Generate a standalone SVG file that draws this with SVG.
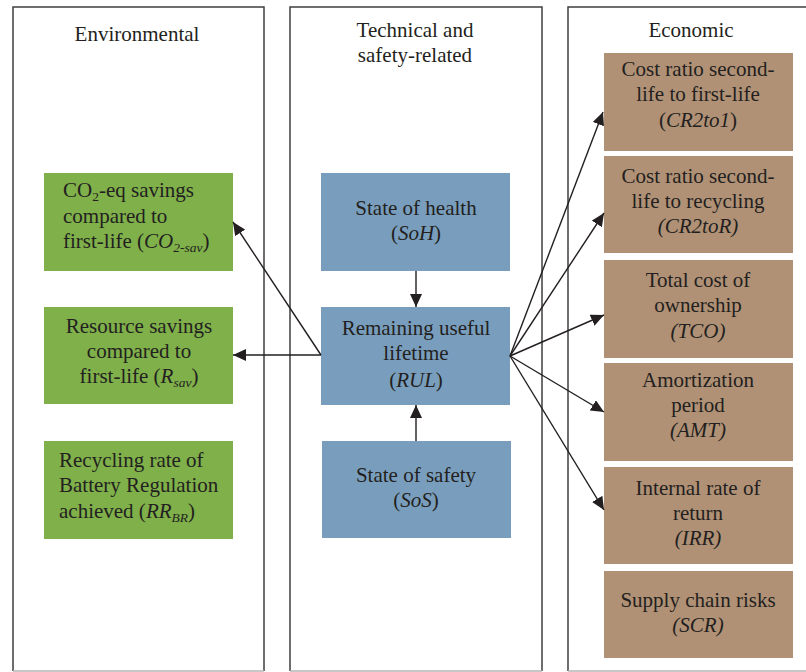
<svg xmlns="http://www.w3.org/2000/svg" width="806" height="672" viewBox="0 0 806 672">
<defs>
<style>
.col{fill:none;stroke:#3f3f3f;stroke-width:1.5}
.colb{fill:none;stroke:#b5b5b5;stroke-width:1.5}
.green{fill:#7fb04a}
.blue{fill:#799ebd}
.brown{fill:#b09175}
text{font-family:"Liberation Serif","Times New Roman",serif;font-size:21px;fill:#231f20}
.c{text-anchor:middle}
.i{font-style:italic}
.conn{stroke:#231f20;stroke-width:1.4;fill:none}
</style>
<marker id="ah" markerUnits="userSpaceOnUse" markerWidth="14" markerHeight="12" refX="13" refY="6" orient="auto">
<path d="M0,0 L13,6 L0,12 Z" fill="#231f20"/>
</marker>
</defs>

<g id="columns">
<path class="col" d="M13,671 V7 H264 V671"/>
<path class="col" d="M290,671 V7 H542 V671"/>
<path class="col" d="M568,671 V7 H806"/>
<path class="colb" d="M13,671 H264 M290,671 H542 M568,671 H806"/>
<text class="c" x="137" y="41">Environmental</text>
<text class="c" x="415" y="37">Technical and</text>
<text class="c" x="415" y="62">safety-related</text>
<text class="c" x="691" y="37">Economic</text>
</g>

<g id="co2sav">
<rect class="green" x="44" y="173" width="189" height="98"/>
<text x="63" y="197">CO<tspan font-size="13.5" dy="4">2</tspan><tspan dy="-4">-eq savings</tspan></text>
<text x="63" y="223">compared to</text>
<text x="63" y="248">first-life (<tspan class="i">CO</tspan><tspan class="i" font-size="13.5" dy="4">2-sav</tspan><tspan dy="-4">)</tspan></text>
</g>

<g id="rsav">
<rect class="green" x="44" y="307" width="189" height="97"/>
<text class="c" x="139" y="333">Resource savings</text>
<text class="c" x="139" y="358">compared to</text>
<text class="c" x="139" y="383">first-life (<tspan class="i">R</tspan><tspan class="i" font-size="13.5" dy="4">sav</tspan><tspan dy="-4">)</tspan></text>
</g>

<g id="rrbr">
<rect class="green" x="44" y="441" width="189" height="98"/>
<text x="59" y="467">Recycling rate of</text>
<text x="59" y="492">Battery Regulation</text>
<text x="59" y="518">achieved (<tspan class="i">RR</tspan><tspan class="i" font-size="13.5" dy="4">BR</tspan><tspan dy="-4">)</tspan></text>
</g>

<g id="soh">
<rect class="blue" x="321" y="173" width="189" height="98"/>
<text class="c" x="416" y="215">State of health</text>
<text class="c" x="416" y="240">(<tspan class="i">SoH</tspan>)</text>
</g>

<g id="rul">
<rect class="blue" x="321" y="307" width="189" height="98"/>
<text class="c" x="416" y="335">Remaining useful</text>
<text class="c" x="416" y="360">lifetime</text>
<text class="c" x="416" y="387">(<tspan class="i">RUL</tspan>)</text>
</g>

<g id="sos">
<rect class="blue" x="322" y="441" width="189" height="97"/>
<text class="c" x="416" y="482">State of safety</text>
<text class="c" x="416" y="507">(<tspan class="i">SoS</tspan>)</text>
</g>

<g id="cr2to1">
<rect class="brown" x="604" y="53" width="189" height="98"/>
<text class="c" x="698" y="76">Cost ratio second-</text>
<text class="c" x="698" y="101">life to first-life</text>
<text class="c" x="698" y="127">(<tspan class="i">CR2to1</tspan>)</text>
</g>

<g id="cr2tor">
<rect class="brown" x="604" y="156" width="189" height="97"/>
<text class="c" x="698" y="183">Cost ratio second-</text>
<text class="c" x="698" y="208">life to recycling</text>
<text class="c i" x="698" y="233">(CR2toR)</text>
</g>

<g id="tco">
<rect class="brown" x="604" y="260" width="189" height="98"/>
<text class="c" x="698" y="287">Total cost of</text>
<text class="c" x="698" y="312">ownership</text>
<text class="c i" x="698" y="338">(TCO)</text>
</g>

<g id="amt">
<rect class="brown" x="604" y="363" width="189" height="98"/>
<text class="c" x="698" y="387">Amortization</text>
<text class="c" x="698" y="412">period</text>
<text class="c i" x="698" y="437">(AMT)</text>
</g>

<g id="irr">
<rect class="brown" x="604" y="467" width="189" height="97"/>
<text class="c" x="698" y="495">Internal rate of</text>
<text class="c" x="698" y="520">return</text>
<text class="c i" x="698" y="545">(IRR)</text>
</g>

<g id="scr">
<rect class="brown" x="604" y="571" width="189" height="87"/>
<text class="c" x="698" y="607">Supply chain risks</text>
<text class="c i" x="698" y="632">(SCR)</text>
</g>

<g id="connectors">
<line class="conn" x1="416" y1="271" x2="416" y2="307" marker-end="url(#ah)"/>
<line class="conn" x1="416" y1="441" x2="416" y2="405" marker-end="url(#ah)"/>
<line class="conn" x1="321" y1="355" x2="233" y2="222" marker-end="url(#ah)"/>
<line class="conn" x1="321" y1="355" x2="233" y2="355" marker-end="url(#ah)"/>
<line class="conn" x1="510" y1="356" x2="603" y2="112" marker-end="url(#ah)"/>
<line class="conn" x1="510" y1="356" x2="604" y2="213" marker-end="url(#ah)"/>
<line class="conn" x1="510" y1="356" x2="604" y2="315" marker-end="url(#ah)"/>
<line class="conn" x1="510" y1="356" x2="604" y2="412" marker-end="url(#ah)"/>
<line class="conn" x1="510" y1="356" x2="604" y2="510" marker-end="url(#ah)"/>
</g>
</svg>
